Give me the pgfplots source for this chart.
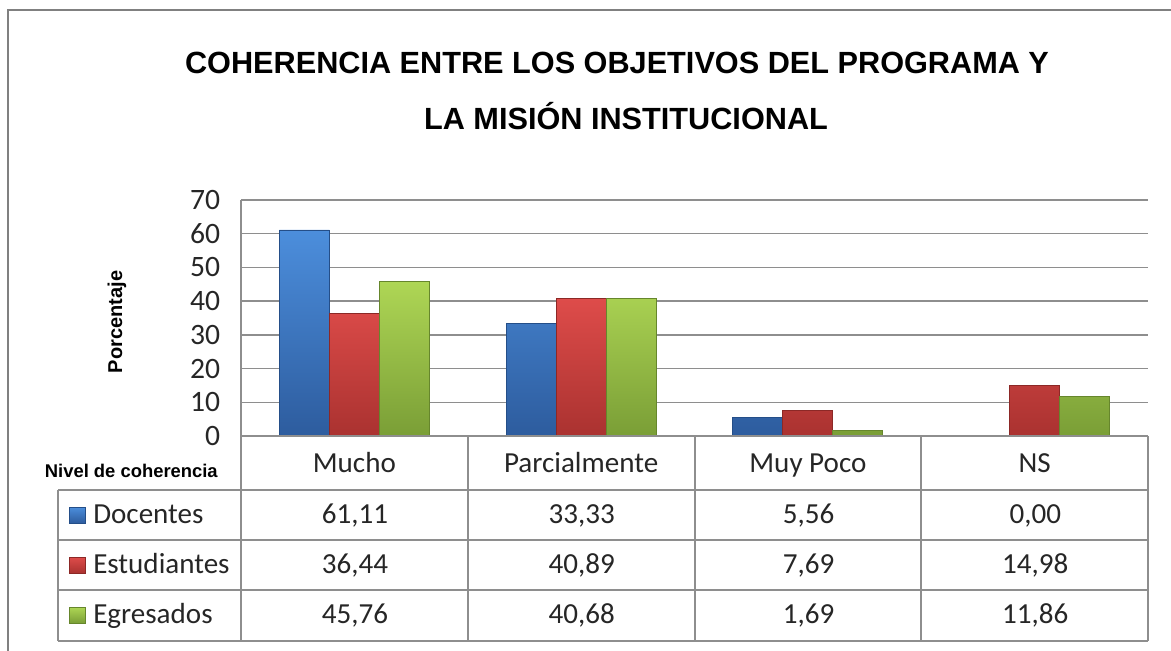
\documentclass[border=0pt]{standalone}
\usepackage{pgfplots}
\pgfplotsset{compat=1.18}
\usepackage{pgfplotstable}
\usepackage{fontspec}
\setmainfont{Carlito}
\newfontfamily\arial{Liberation Sans}
\definecolor{blueT}{HTML}{4C8EDC}
\definecolor{blueB}{HTML}{2D5C9E}
\definecolor{blueE}{HTML}{244E88}
\definecolor{redT}{HTML}{DE4C4A}
\definecolor{redB}{HTML}{AA3230}
\definecolor{redE}{HTML}{8C2826}
\definecolor{greenT}{HTML}{AED655}
\definecolor{greenB}{HTML}{7A9E36}
\definecolor{greenE}{HTML}{66862C}
\definecolor{gridc}{HTML}{8E8E8E}
\definecolor{framec}{HTML}{808080}

\pgfplotstableread{
x doc est egr
0 61.11 36.44 45.76
1 33.33 40.89 40.68
2 5.56 7.69 1.69
3 0.00 14.98 11.86
}\datatable

\begin{document}
\begin{tikzpicture}
% page = 1171 x 650 px, 1px = 0.75pt
\path[use as bounding box] (0,0) rectangle (878.25pt,-487.5pt);
\draw[framec, line width=2.2pt] (6pt,-7.5pt) rectangle (900pt,-520pt);

\begin{axis}[
  at={(180.75pt,-327pt)}, anchor=south west,
  scale only axis, width=680.25pt, height=177pt,
  xmin=-0.5, xmax=3.5, ymin=0, ymax=70,
  enlargelimits=false,
  ybar=0pt, bar width=37.5pt,
  xtick=data, xticklabels={Mucho,Parcialmente,Muy Poco,NS},
  ytick={0,10,...,70},
  major tick length=0pt,
  axis x line=bottom, axis y line=left,
  axis line style={draw=gridc, line width=1.1pt, -},
  ymajorgrids, grid style={draw=gridc, line width=1.1pt},
  /pgf/number format/assume math mode=true,
  yticklabel style={font=\fontsize{22.2}{23}\selectfont, color=black!85, anchor=east, inner sep=0pt, xshift=-15.5pt},
  xticklabel style={font=\fontsize{21.8}{22}\selectfont, color=black!85, anchor=base, inner sep=0pt, yshift=-27pt},
  clip=false,
]
\addplot[top color=blueT, bottom color=blueB, draw=blueE, line width=0.6pt] table[x=x, y=doc] {\datatable};
\addplot[top color=redT, bottom color=redB, draw=redE, line width=0.6pt] table[x=x, y=est] {\datatable};
\addplot[top color=greenT, bottom color=greenB, draw=greenE, line width=0.6pt] table[x=x, y=egr] {\datatable};
\end{axis}

\begin{scope}[x=0.75pt, y=-0.75pt]
% title
\node[font=\arial\bfseries\fontsize{23}{30}\selectfont, anchor=base] at (617,73) {COHERENCIA ENTRE LOS OBJETIVOS DEL PROGRAMA Y};
\node[font=\arial\bfseries\fontsize{23}{30}\selectfont, anchor=base] at (626,129) {LA MISIÓN INSTITUCIONAL};
% axis side labels
\node[font=\arial\bfseries\fontsize{15}{16}\selectfont, rotate=90, inner sep=0pt] at (117,322) {Porcentaje};
\node[font=\arial\bfseries\fontsize{13.8}{14}\selectfont, anchor=base east, inner sep=0pt] at (218,477) {Nivel de coherencia};
% table grid
\begin{scope}[draw=gridc, line width=1.1pt]
\draw (241,436) -- (1148,436);
\foreach \yy in {490,540,590,641} \draw (58,\yy) -- (1148,\yy);
\foreach \xx in {241,468,695,921,1148} \draw (\xx,436) -- (\xx,641);
\draw (58,490) -- (58,641);
\end{scope}
% legend keys
\foreach \c/\yy/\nm in {blue/515/Docentes, red/565/Estudiantes, green/615/Egresados}{
  \path[top color=\c T, bottom color=\c B, draw=\c E, line width=0.5pt] (69,{\yy-8}) rectangle (85,{\yy+8});
  \node[font=\fontsize{21.8}{22}\selectfont, color=black!85, anchor=base west, inner sep=0pt] at (93,\yy+8) {\nm};
}
% values
\foreach \c/\yy in {doc/523, est/573, egr/623}{
  \foreach \r in {0,...,3}{
    \pgfplotstablegetelem{\r}{\c}\of\datatable
    \node[font=\fontsize{21.8}{22}\selectfont, color=black!85, anchor=base, inner sep=0pt] at ({355+226.75*\r},\yy) {\pgfmathprintnumber[fixed,fixed zerofill,precision=2,use comma,assume math mode=true]{\pgfplotsretval}};
  }
}
\end{scope}
\end{tikzpicture}
\end{document}
